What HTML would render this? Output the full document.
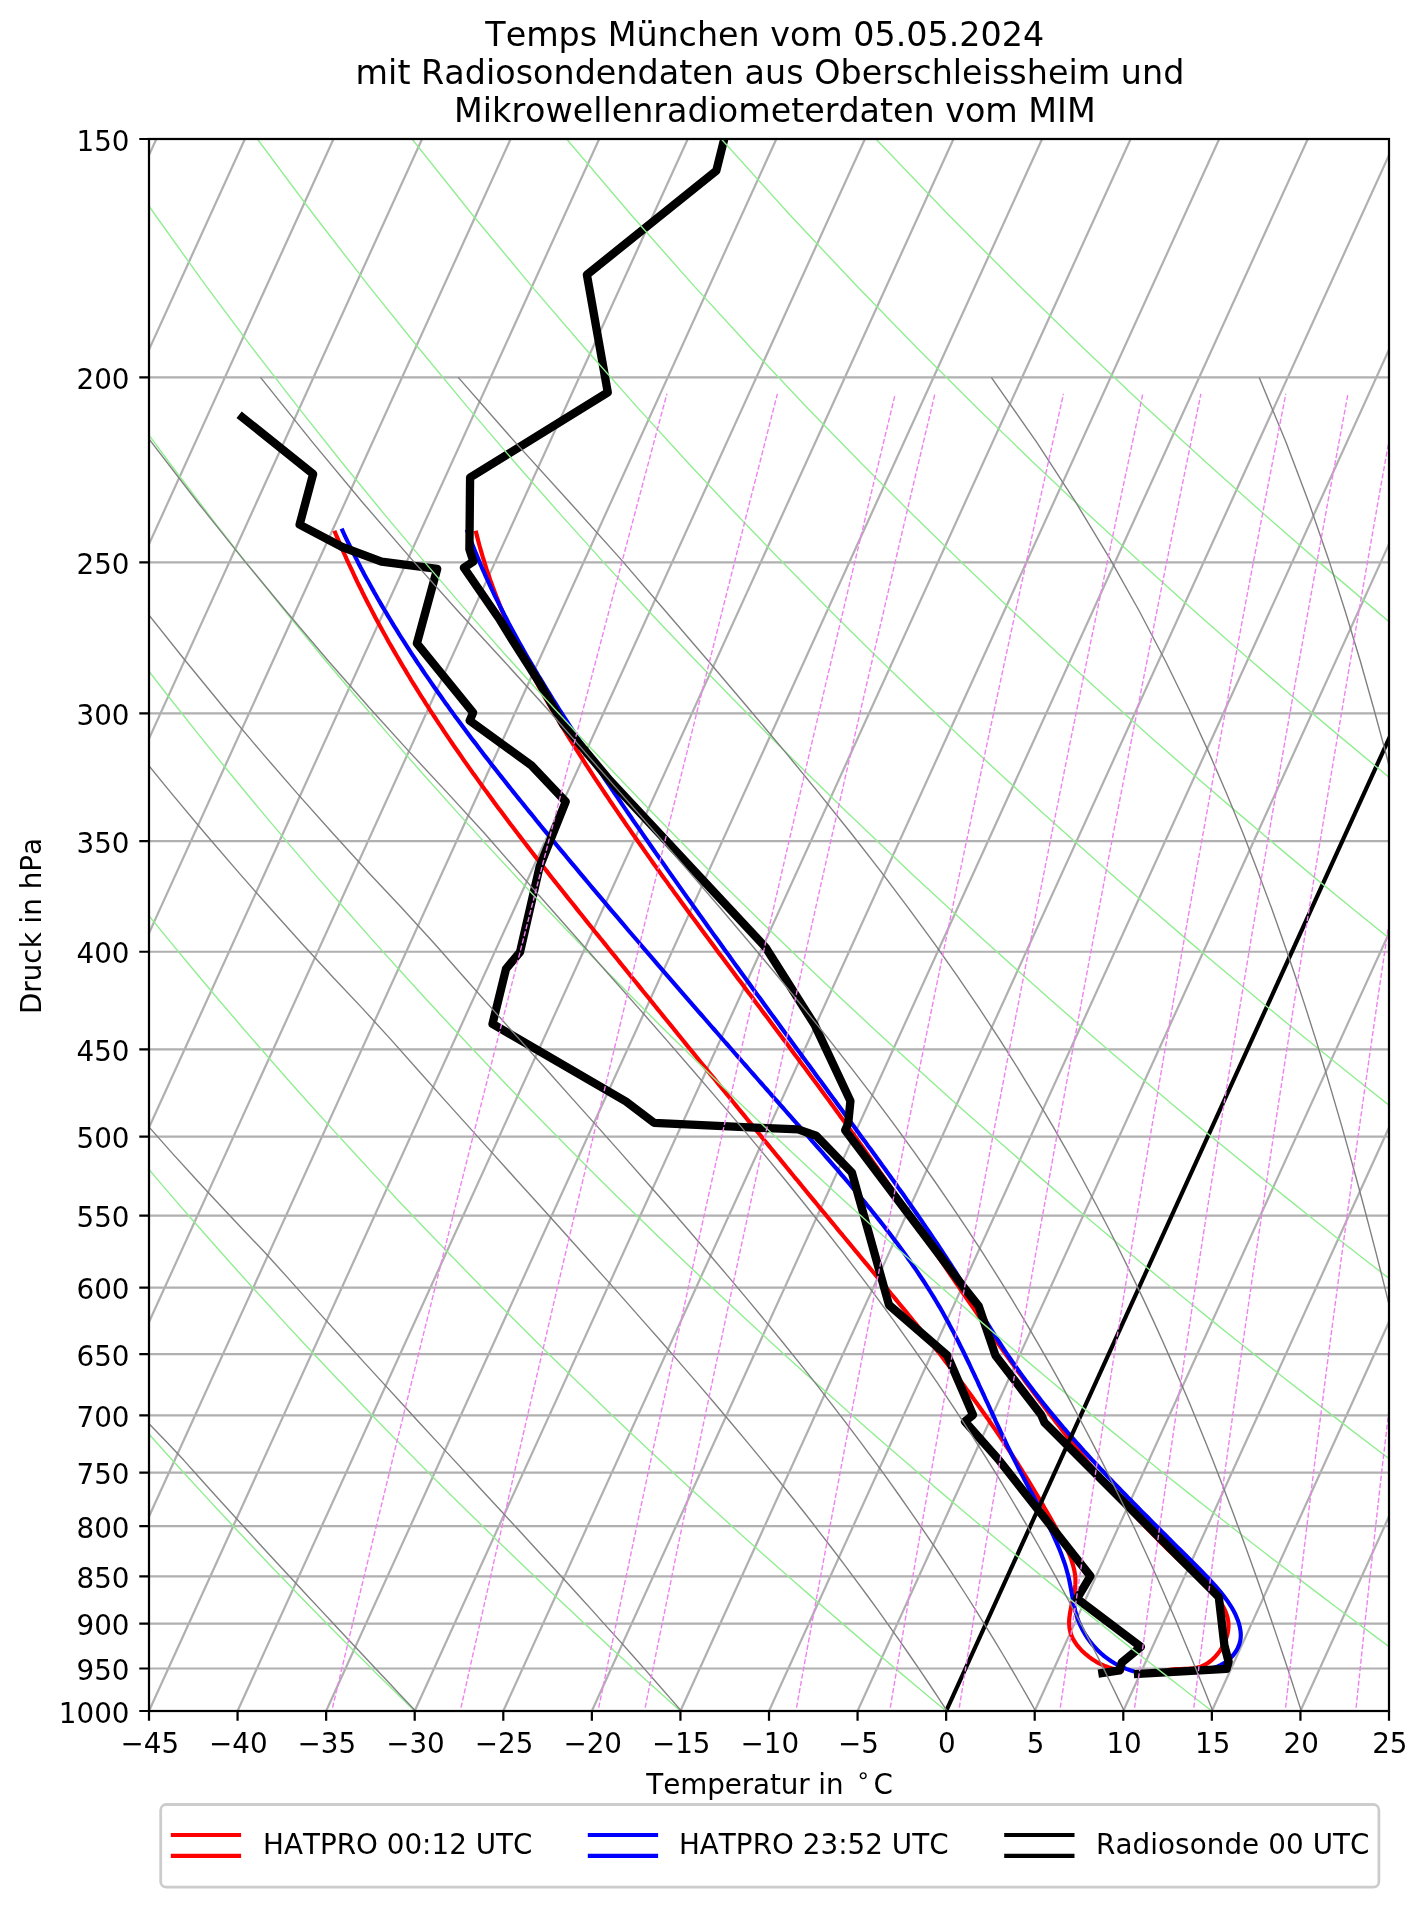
<!DOCTYPE html>
<html lang="de"><head><meta charset="utf-8"><title>Temps München vom 05.05.2024</title>
<style>html,body{margin:0;padding:0;background:#fff}body{width:1427px;height:1907px;overflow:hidden}</style></head>
<body>
<svg width="1427" height="1907" viewBox="0 0 1427 1907" style="display:block;will-change:transform;font-kerning:none">
<rect width="1427" height="1907" fill="#fff"/>
<defs><clipPath id="ax"><rect x="149.0" y="139.0" width="1240.0" height="1572.0"/></clipPath></defs>
<g clip-path="url(#ax)" fill="none" stroke-linejoin="round">
<path d="M-648.14,1711.0L67.77,139.0M-559.57,1711.0L156.34,139.0M-471.00,1711.0L244.91,139.0M-382.43,1711.0L333.49,139.0M-293.86,1711.0L422.06,139.0M-205.29,1711.0L510.63,139.0M-116.71,1711.0L599.20,139.0M-28.14,1711.0L687.77,139.0M60.43,1711.0L776.34,139.0M149.00,1711.0L864.91,139.0M237.57,1711.0L953.49,139.0M326.14,1711.0L1042.06,139.0M414.71,1711.0L1130.63,139.0M503.29,1711.0L1219.20,139.0M591.86,1711.0L1307.77,139.0M680.43,1711.0L1396.34,139.0M769.00,1711.0L1484.91,139.0M857.57,1711.0L1573.49,139.0M946.14,1711.0L1662.06,139.0M1034.71,1711.0L1750.63,139.0M1123.29,1711.0L1839.20,139.0M1211.86,1711.0L1927.77,139.0M1300.43,1711.0L2016.34,139.0M1389.00,1711.0L2104.91,139.0M149.0,377.38H1389.0M149.0,562.28H1389.0M149.0,713.36H1389.0M149.0,841.09H1389.0M149.0,951.74H1389.0M149.0,1049.34H1389.0M149.0,1136.64H1389.0M149.0,1215.62H1389.0M149.0,1287.72H1389.0M149.0,1354.04H1389.0M149.0,1415.45H1389.0M149.0,1472.62H1389.0M149.0,1526.10H1389.0M149.0,1576.33H1389.0M149.0,1623.70H1389.0M149.0,1668.50H1389.0M149.0,1711.00H1389.0" stroke="#b0b0b0" stroke-width="2.22"/>
<polyline points="475.7,530.7 476.6,534.6 477.6,538.4 478.6,542.2 479.6,546.0 480.7,549.8 481.8,553.6 482.9,557.4 484.1,561.2 485.2,564.9 486.4,568.7 487.7,572.4 489.0,576.2 490.2,579.9 491.6,583.6 492.9,587.3 494.3,591.0 495.7,594.7 497.1,598.4 498.6,602.1 500.0,605.8 501.5,609.4 503.0,613.1 504.6,616.7 506.2,620.4 507.8,624.0 509.4,627.6 511.0,631.3 512.7,634.9 514.3,638.5 516.0,642.1 517.8,645.7 519.5,649.2 521.2,652.8 523.0,656.4 524.8,659.9 526.6,663.5 528.5,667.0 530.3,670.6 532.2,674.1 534.1,677.6 536.0,681.2 537.9,684.7 539.8,688.2 541.8,691.7 543.7,695.2 545.7,698.7 547.7,702.1 549.7,705.6 551.7,709.1 553.8,712.5 555.8,716.0 557.9,719.5 559.9,722.9 562.0,726.3 564.1,729.8 566.2,733.2 568.3,736.6 570.4,740.0 572.6,743.4 574.7,746.9 576.9,750.3 579.0,753.6 581.2,757.0 583.4,760.4 585.5,763.8 587.7,767.2 589.9,770.5 592.1,773.9 594.3,777.3 596.5,780.6 598.8,784.0 601.0,787.3 603.2,790.7 605.4,794.0 607.7,797.3 609.9,800.7 612.2,804.0 614.4,807.3 616.7,810.6 618.9,813.9 621.2,817.2 623.5,820.5 625.7,823.8 628.0,827.1 630.3,830.4 632.6,833.7 634.9,837.0 637.2,840.3 639.5,843.6 641.8,846.8 644.1,850.1 646.4,853.4 648.7,856.6 651.0,859.9 653.3,863.2 655.6,866.4 658.0,869.7 660.3,872.9 662.6,876.2 664.9,879.4 667.3,882.6 669.6,885.9 672.0,889.1 674.3,892.4 676.7,895.6 679.0,898.8 681.3,902.0 683.7,905.3 686.1,908.5 688.4,911.7 690.8,914.9 693.1,918.1 695.5,921.3 697.9,924.6 700.2,927.8 702.6,931.0 705.0,934.2 707.3,937.4 709.7,940.6 712.1,943.8 714.5,947.0 716.8,950.2 719.2,953.4 721.6,956.6 724.0,959.8 726.4,963.0 728.7,966.1 731.1,969.3 733.5,972.5 735.9,975.7 738.3,978.9 740.7,982.1 743.1,985.3 745.4,988.5 747.8,991.7 750.2,994.8 752.6,998.0 755.0,1001.2 757.4,1004.4 759.8,1007.6 762.1,1010.8 764.5,1013.9 766.9,1017.1 769.3,1020.3 771.7,1023.5 774.1,1026.7 776.5,1029.9 778.8,1033.0 781.2,1036.2 783.6,1039.4 786.0,1042.6 788.4,1045.8 790.7,1049.0 793.1,1052.2 795.5,1055.4 797.9,1058.5 800.2,1061.7 802.6,1064.9 805.0,1068.1 807.3,1071.3 809.7,1074.5 812.1,1077.7 814.4,1080.9 816.8,1084.1 819.2,1087.3 821.5,1090.5 823.9,1093.7 826.2,1096.9 828.6,1100.1 830.9,1103.3 833.3,1106.5 835.6,1109.7 838.0,1112.9 840.3,1116.2 842.6,1119.4 845.0,1122.6 847.3,1125.8 849.6,1129.0 851.9,1132.3 854.3,1135.5 856.6,1138.7 858.9,1142.0 861.2,1145.2 863.5,1148.4 865.8,1151.7 868.1,1154.9 870.4,1158.2 872.7,1161.4 875.0,1164.7 877.3,1167.9 879.5,1171.2 881.8,1174.4 884.1,1177.7 886.4,1181.0 888.6,1184.2 890.9,1187.5 893.2,1190.8 895.4,1194.1 897.7,1197.3 899.9,1200.6 902.2,1203.9 904.4,1207.2 906.7,1210.5 908.9,1213.7 911.2,1217.0 913.4,1220.3 915.7,1223.6 917.9,1226.9 920.1,1230.2 922.4,1233.5 924.6,1236.8 926.9,1240.0 929.1,1243.3 931.3,1246.6 933.6,1249.9 935.8,1253.2 938.1,1256.5 940.3,1259.8 942.6,1263.1 944.8,1266.4 947.0,1269.7 949.3,1273.0 951.5,1276.3 953.8,1279.5 956.0,1282.8 958.3,1286.1 960.5,1289.4 962.8,1292.7 965.0,1296.0 967.3,1299.3 969.5,1302.6 971.8,1305.8 974.1,1309.1 976.3,1312.4 978.6,1315.7 980.9,1318.9 983.1,1322.2 985.4,1325.5 987.7,1328.8 990.0,1332.0 992.3,1335.3 994.6,1338.5 996.9,1341.8 999.2,1345.1 1001.5,1348.3 1003.8,1351.6 1006.1,1354.8 1008.4,1358.1 1010.7,1361.3 1013.1,1364.5 1015.4,1367.8 1017.7,1371.0 1020.1,1374.2 1022.4,1377.4 1024.8,1380.7 1027.2,1383.9 1029.5,1387.1 1031.9,1390.3 1034.3,1393.5 1036.7,1396.7 1039.1,1399.9 1041.5,1403.1 1043.9,1406.3 1046.3,1409.5 1048.7,1412.6 1051.1,1415.8 1053.6,1419.0 1056.0,1422.1 1058.5,1425.3 1060.9,1428.4 1063.4,1431.6 1065.9,1434.7 1068.3,1437.9 1070.8,1441.0 1073.3,1444.1 1075.8,1447.2 1078.4,1450.3 1080.9,1453.4 1083.4,1456.5 1086.0,1459.6 1088.5,1462.7 1091.1,1465.8 1093.7,1468.9 1096.2,1471.9 1098.8,1475.0 1101.4,1478.0 1104.1,1481.1 1106.7,1484.1 1109.3,1487.1 1112.0,1490.2 1114.6,1493.2 1117.3,1496.2 1120.0,1499.2 1122.7,1502.2 1125.4,1505.2 1128.1,1508.1 1130.8,1511.1 1133.5,1514.1 1136.3,1517.0 1139.0,1520.0 1141.8,1522.9 1144.6,1525.8 1147.4,1528.7 1150.2,1531.6 1153.0,1534.5 1155.9,1537.4 1158.7,1540.3 1161.6,1543.2 1164.5,1546.1 1167.4,1548.9 1170.3,1551.8 1173.2,1554.6 1176.1,1557.4 1179.1,1560.2 1182.0,1563.0 1185.0,1565.8 1188.0,1568.6 1191.0,1571.4 1194.0,1574.2 1197.0,1576.9 1200.0,1579.7 1202.9,1582.4 1205.8,1585.2 1208.6,1588.0 1211.3,1590.8 1213.8,1593.7 1216.2,1596.5 1218.5,1599.5 1220.6,1602.4 1222.5,1605.4 1224.1,1608.4 1225.5,1611.5 1226.7,1614.7 1227.6,1617.9 1228.2,1621.2 1228.5,1624.6 1228.4,1628.1 1228.0,1631.6 1227.2,1635.2 1226.1,1639.0 1224.5,1642.7 1222.6,1646.5 1220.4,1650.1 1217.9,1653.6 1215.0,1656.9 1212.0,1659.8 1208.6,1662.5 1205.1,1664.7 1201.3,1666.4 1197.4,1667.5 1193.3,1668.3 1189.1,1668.6 1184.7,1668.8 1180.3,1669.0 1175.8,1669.2 1171.2,1669.6 1166.7,1670.3" stroke="#ff0000" stroke-width="4.17"/>
<polyline points="334.4,530.8 335.9,534.5 337.5,538.2 339.1,541.9 340.7,545.6 342.3,549.3 343.9,553.0 345.6,556.7 347.2,560.3 348.9,564.0 350.6,567.6 352.3,571.2 354.0,574.9 355.7,578.5 357.4,582.1 359.2,585.7 361.0,589.3 362.7,592.8 364.5,596.4 366.3,600.0 368.1,603.5 370.0,607.1 371.8,610.6 373.7,614.2 375.5,617.7 377.4,621.2 379.3,624.7 381.2,628.2 383.1,631.7 385.1,635.2 387.0,638.7 388.9,642.2 390.9,645.6 392.9,649.1 394.9,652.6 396.9,656.0 398.9,659.4 400.9,662.9 402.9,666.3 405.0,669.7 407.0,673.1 409.1,676.5 411.1,680.0 413.2,683.3 415.3,686.7 417.4,690.1 419.5,693.5 421.6,696.9 423.8,700.2 425.9,703.6 428.1,706.9 430.2,710.3 432.4,713.6 434.6,717.0 436.8,720.3 438.9,723.6 441.2,726.9 443.4,730.3 445.6,733.6 447.8,736.9 450.0,740.2 452.3,743.5 454.5,746.8 456.8,750.0 459.1,753.3 461.4,756.6 463.6,759.9 465.9,763.1 468.2,766.4 470.5,769.6 472.8,772.9 475.2,776.1 477.5,779.4 479.8,782.6 482.2,785.9 484.5,789.1 486.9,792.3 489.2,795.5 491.6,798.8 493.9,802.0 496.3,805.2 498.7,808.4 501.1,811.6 503.5,814.8 505.9,818.0 508.3,821.2 510.7,824.4 513.1,827.6 515.5,830.8 518.0,834.0 520.4,837.1 522.8,840.3 525.3,843.5 527.7,846.6 530.1,849.8 532.6,853.0 535.0,856.1 537.5,859.3 540.0,862.5 542.4,865.6 544.9,868.8 547.4,871.9 549.8,875.1 552.3,878.2 554.8,881.4 557.3,884.5 559.8,887.6 562.3,890.8 564.8,893.9 567.3,897.1 569.8,900.2 572.3,903.3 574.8,906.4 577.3,909.6 579.8,912.7 582.3,915.8 584.8,919.0 587.3,922.1 589.8,925.2 592.3,928.3 594.8,931.5 597.4,934.6 599.9,937.7 602.4,940.8 604.9,943.9 607.4,947.0 609.9,950.2 612.5,953.3 615.0,956.4 617.5,959.5 620.0,962.6 622.5,965.7 625.1,968.9 627.6,972.0 630.1,975.1 632.6,978.2 635.1,981.3 637.7,984.4 640.2,987.6 642.7,990.7 645.2,993.8 647.8,996.9 650.3,1000.0 652.8,1003.1 655.3,1006.2 657.8,1009.4 660.4,1012.5 662.9,1015.6 665.4,1018.7 667.9,1021.8 670.5,1024.9 673.0,1028.0 675.5,1031.1 678.0,1034.2 680.5,1037.3 683.1,1040.5 685.6,1043.6 688.1,1046.7 690.6,1049.8 693.2,1052.9 695.7,1056.0 698.2,1059.1 700.7,1062.2 703.3,1065.3 705.8,1068.4 708.3,1071.5 710.8,1074.6 713.4,1077.7 715.9,1080.8 718.4,1083.9 720.9,1087.0 723.5,1090.1 726.0,1093.2 728.5,1096.3 731.0,1099.4 733.6,1102.5 736.1,1105.6 738.6,1108.7 741.2,1111.8 743.7,1114.9 746.2,1118.0 748.7,1121.1 751.3,1124.2 753.8,1127.3 756.3,1130.4 758.9,1133.5 761.4,1136.6 763.9,1139.7 766.5,1142.8 769.0,1145.9 771.5,1149.0 774.1,1152.1 776.6,1155.2 779.1,1158.2 781.7,1161.3 784.2,1164.4 786.7,1167.5 789.3,1170.6 791.8,1173.7 794.3,1176.8 796.9,1179.8 799.4,1182.9 801.9,1186.0 804.5,1189.1 807.0,1192.2 809.6,1195.3 812.1,1198.3 814.6,1201.4 817.2,1204.5 819.7,1207.6 822.2,1210.6 824.8,1213.7 827.3,1216.8 829.9,1219.9 832.4,1222.9 835.0,1226.0 837.5,1229.1 840.0,1232.2 842.6,1235.2 845.1,1238.3 847.7,1241.4 850.2,1244.4 852.8,1247.5 855.3,1250.6 857.9,1253.6 860.4,1256.7 863.0,1259.8 865.5,1262.8 868.1,1265.9 870.6,1269.0 873.1,1272.0 875.7,1275.1 878.2,1278.1 880.8,1281.2 883.3,1284.3 885.9,1287.3 888.4,1290.4 890.9,1293.5 893.5,1296.5 896.0,1299.6 898.5,1302.7 901.1,1305.8 903.6,1308.8 906.1,1311.9 908.6,1315.0 911.1,1318.1 913.6,1321.2 916.1,1324.2 918.6,1327.3 921.1,1330.4 923.6,1333.5 926.1,1336.6 928.6,1339.7 931.0,1342.9 933.5,1346.0 936.0,1349.1 938.4,1352.2 940.9,1355.3 943.3,1358.5 945.7,1361.6 948.1,1364.8 950.6,1367.9 953.0,1371.1 955.4,1374.2 957.8,1377.4 960.1,1380.6 962.5,1383.8 964.9,1386.9 967.2,1390.1 969.6,1393.3 971.9,1396.5 974.2,1399.8 976.6,1403.0 978.9,1406.2 981.2,1409.5 983.5,1412.7 985.8,1416.0 988.1,1419.2 990.3,1422.5 992.6,1425.8 994.9,1429.1 997.1,1432.4 999.3,1435.7 1001.6,1439.0 1003.8,1442.3 1006.0,1445.7 1008.2,1449.0 1010.4,1452.4 1012.6,1455.7 1014.8,1459.1 1017.0,1462.5 1019.1,1465.9 1021.3,1469.3 1023.4,1472.8 1025.6,1476.2 1027.7,1479.6 1029.8,1483.1 1031.9,1486.6 1034.0,1490.1 1036.1,1493.6 1038.2,1497.1 1040.3,1500.6 1042.4,1504.1 1044.4,1507.7 1046.5,1511.2 1048.5,1514.8 1050.6,1518.4 1052.6,1522.0 1054.6,1525.6 1056.6,1529.3 1058.6,1532.9 1060.6,1536.6 1062.5,1540.2 1064.4,1543.9 1066.2,1547.6 1067.9,1551.3 1069.5,1555.0 1071.0,1558.7 1072.2,1562.5 1073.3,1566.2 1074.2,1569.9 1074.9,1573.6 1075.3,1577.3 1075.5,1581.0 1075.3,1584.7 1075.0,1588.4 1074.4,1592.1 1073.7,1595.8 1072.9,1599.4 1072.0,1603.1 1071.2,1606.7 1070.5,1610.3 1069.9,1613.9 1069.4,1617.5 1069.1,1621.1 1069.2,1624.6 1069.5,1628.1 1070.2,1631.6 1071.3,1635.0 1072.8,1638.4 1074.7,1641.8 1077.0,1645.1 1079.6,1648.2 1082.5,1651.3 1085.7,1654.2 1089.0,1656.9 1092.6,1659.5 1096.3,1661.8 1100.2,1663.9 1104.1,1665.7 1108.2,1667.3 1112.2,1668.5 1116.2,1669.5 1120.2,1670.1 1124.1,1670.3" stroke="#ff0000" stroke-width="4.17"/>
<polyline points="466.8,529.5 468.1,533.2 469.5,536.9 470.9,540.5 472.3,544.2 473.7,547.8 475.2,551.5 476.7,555.1 478.2,558.8 479.7,562.4 481.2,566.0 482.8,569.6 484.4,573.2 486.0,576.8 487.7,580.4 489.3,584.0 491.0,587.6 492.7,591.2 494.4,594.8 496.1,598.3 497.9,601.9 499.6,605.4 501.4,609.0 503.2,612.5 505.0,616.1 506.9,619.6 508.7,623.2 510.6,626.7 512.5,630.2 514.4,633.7 516.3,637.2 518.2,640.7 520.2,644.2 522.2,647.7 524.1,651.2 526.1,654.7 528.1,658.2 530.1,661.6 532.2,665.1 534.2,668.6 536.3,672.0 538.3,675.5 540.4,678.9 542.5,682.4 544.6,685.8 546.7,689.3 548.8,692.7 550.9,696.1 553.0,699.6 555.2,703.0 557.3,706.4 559.5,709.8 561.7,713.2 563.8,716.6 566.0,720.0 568.2,723.4 570.4,726.8 572.6,730.2 574.8,733.6 577.0,737.0 579.2,740.3 581.4,743.7 583.7,747.1 585.9,750.4 588.1,753.8 590.3,757.1 592.6,760.5 594.8,763.8 597.1,767.2 599.3,770.5 601.5,773.9 603.8,777.2 606.0,780.5 608.3,783.9 610.5,787.2 612.8,790.5 615.0,793.8 617.3,797.1 619.6,800.5 621.8,803.8 624.1,807.1 626.3,810.4 628.6,813.7 630.9,817.0 633.1,820.3 635.4,823.6 637.7,826.9 640.0,830.1 642.2,833.4 644.5,836.7 646.8,840.0 649.1,843.3 651.3,846.5 653.6,849.8 655.9,853.1 658.2,856.3 660.5,859.6 662.8,862.9 665.1,866.1 667.3,869.4 669.6,872.6 671.9,875.9 674.2,879.1 676.5,882.4 678.8,885.6 681.1,888.9 683.4,892.1 685.7,895.4 688.0,898.6 690.3,901.8 692.6,905.1 694.9,908.3 697.2,911.5 699.5,914.8 701.9,918.0 704.2,921.2 706.5,924.5 708.8,927.7 711.1,930.9 713.4,934.1 715.7,937.3 718.1,940.6 720.4,943.8 722.7,947.0 725.0,950.2 727.3,953.4 729.7,956.6 732.0,959.9 734.3,963.1 736.6,966.3 739.0,969.5 741.3,972.7 743.6,975.9 745.9,979.1 748.3,982.3 750.6,985.5 752.9,988.7 755.3,991.9 757.6,995.1 760.0,998.3 762.3,1001.5 764.6,1004.7 767.0,1007.9 769.3,1011.2 771.6,1014.4 774.0,1017.6 776.3,1020.8 778.7,1024.0 781.0,1027.2 783.4,1030.4 785.7,1033.6 788.0,1036.8 790.4,1040.0 792.7,1043.2 795.1,1046.4 797.4,1049.6 799.8,1052.8 802.1,1056.0 804.5,1059.2 806.8,1062.4 809.2,1065.6 811.5,1068.8 813.9,1072.0 816.2,1075.2 818.6,1078.4 821.0,1081.6 823.3,1084.8 825.7,1088.0 828.0,1091.2 830.4,1094.4 832.7,1097.6 835.1,1100.8 837.4,1104.0 839.8,1107.2 842.2,1110.5 844.5,1113.7 846.9,1116.9 849.2,1120.1 851.6,1123.3 854.0,1126.5 856.3,1129.8 858.7,1133.0 861.0,1136.2 863.4,1139.4 865.8,1142.6 868.1,1145.9 870.5,1149.1 872.8,1152.3 875.2,1155.6 877.5,1158.8 879.9,1162.0 882.2,1165.3 884.6,1168.5 886.9,1171.8 889.3,1175.0 891.6,1178.3 894.0,1181.5 896.3,1184.8 898.6,1188.1 900.9,1191.3 903.3,1194.6 905.6,1197.9 907.9,1201.2 910.2,1204.5 912.5,1207.7 914.8,1211.0 917.1,1214.3 919.4,1217.6 921.7,1220.9 923.9,1224.3 926.2,1227.6 928.5,1230.9 930.7,1234.2 933.0,1237.6 935.2,1240.9 937.5,1244.2 939.7,1247.6 941.9,1251.0 944.1,1254.3 946.3,1257.7 948.5,1261.1 950.7,1264.5 952.9,1267.8 955.1,1271.2 957.2,1274.6 959.4,1278.1 961.5,1281.5 963.7,1284.9 965.8,1288.3 967.9,1291.8 970.0,1295.2 972.2,1298.6 974.3,1302.1 976.4,1305.5 978.5,1309.0 980.6,1312.4 982.7,1315.8 984.8,1319.2 986.9,1322.7 989.1,1326.1 991.2,1329.5 993.3,1332.9 995.5,1336.2 997.6,1339.6 999.8,1343.0 1002.0,1346.3 1004.1,1349.6 1006.3,1352.9 1008.6,1356.2 1010.8,1359.5 1013.0,1362.7 1015.3,1366.0 1017.6,1369.2 1019.9,1372.4 1022.2,1375.6 1024.5,1378.7 1026.8,1381.9 1029.2,1385.0 1031.5,1388.1 1033.9,1391.2 1036.3,1394.3 1038.7,1397.4 1041.1,1400.5 1043.5,1403.5 1046.0,1406.6 1048.4,1409.6 1050.9,1412.6 1053.4,1415.6 1055.9,1418.6 1058.4,1421.6 1060.9,1424.6 1063.4,1427.6 1066.0,1430.5 1068.5,1433.5 1071.1,1436.4 1073.7,1439.4 1076.3,1442.3 1078.9,1445.2 1081.5,1448.1 1084.1,1451.1 1086.8,1454.0 1089.4,1456.9 1092.1,1459.8 1094.8,1462.6 1097.4,1465.5 1100.1,1468.4 1102.9,1471.3 1105.6,1474.2 1108.3,1477.1 1111.1,1479.9 1113.8,1482.8 1116.6,1485.7 1119.3,1488.5 1122.1,1491.4 1124.9,1494.3 1127.7,1497.2 1130.6,1500.0 1133.4,1502.9 1136.2,1505.8 1139.1,1508.7 1141.9,1511.6 1144.8,1514.5 1147.7,1517.3 1150.5,1520.2 1153.4,1523.1 1156.3,1526.0 1159.3,1529.0 1162.2,1531.9 1165.1,1534.8 1168.0,1537.7 1171.0,1540.7 1173.9,1543.6 1176.9,1546.6 1179.9,1549.5 1182.9,1552.5 1185.9,1555.5 1188.9,1558.5 1191.9,1561.5 1194.9,1564.5 1197.9,1567.5 1200.9,1570.5 1203.9,1573.6 1206.8,1576.6 1209.7,1579.7 1212.6,1582.8 1215.4,1585.9 1218.1,1589.0 1220.7,1592.1 1223.2,1595.2 1225.6,1598.4 1227.9,1601.6 1230.0,1604.8 1232.0,1608.0 1233.8,1611.2 1235.4,1614.4 1236.8,1617.7 1238.1,1621.0 1239.1,1624.2 1239.9,1627.6 1240.5,1630.9 1240.8,1634.3 1240.7,1637.6 1240.2,1641.0 1239.3,1644.4 1237.8,1647.9 1236.0,1651.2 1233.7,1654.5 1231.0,1657.5 1227.9,1660.3 1224.6,1662.8 1221.0,1664.9 1217.2,1666.6 1213.2,1668.0 1209.1,1669.0 1204.9,1669.8 1200.7,1670.4 1196.4,1670.7 1192.1,1670.9 1188.0,1670.9 1183.9,1670.7 1180.0,1670.5" stroke="#0000ff" stroke-width="4.17"/>
<polyline points="341.6,528.6 343.2,532.2 344.9,535.8 346.6,539.4 348.3,542.9 350.1,546.5 351.8,550.0 353.6,553.6 355.4,557.1 357.2,560.6 359.0,564.2 360.8,567.7 362.7,571.2 364.5,574.7 366.4,578.2 368.3,581.6 370.2,585.1 372.2,588.6 374.1,592.1 376.1,595.5 378.0,599.0 380.0,602.4 382.0,605.9 384.0,609.3 386.1,612.7 388.1,616.1 390.2,619.5 392.2,622.9 394.3,626.3 396.4,629.7 398.5,633.1 400.6,636.5 402.8,639.9 404.9,643.2 407.1,646.6 409.2,649.9 411.4,653.3 413.6,656.6 415.8,660.0 418.0,663.3 420.3,666.6 422.5,670.0 424.7,673.3 427.0,676.6 429.3,679.9 431.5,683.2 433.8,686.5 436.1,689.8 438.4,693.0 440.8,696.3 443.1,699.6 445.4,702.9 447.8,706.1 450.1,709.4 452.5,712.6 454.8,715.9 457.2,719.1 459.6,722.3 462.0,725.6 464.4,728.8 466.8,732.0 469.2,735.2 471.6,738.4 474.1,741.6 476.5,744.8 478.9,748.0 481.4,751.2 483.8,754.4 486.3,757.6 488.8,760.8 491.2,764.0 493.7,767.1 496.2,770.3 498.7,773.5 501.2,776.6 503.7,779.8 506.2,782.9 508.7,786.1 511.2,789.2 513.7,792.4 516.2,795.5 518.7,798.6 521.3,801.8 523.8,804.9 526.3,808.0 528.8,811.1 531.4,814.2 533.9,817.3 536.4,820.5 539.0,823.6 541.5,826.7 544.1,829.8 546.6,832.8 549.2,835.9 551.7,839.0 554.3,842.1 556.8,845.2 559.4,848.3 561.9,851.3 564.5,854.4 567.0,857.5 569.6,860.6 572.1,863.6 574.7,866.7 577.2,869.7 579.8,872.8 582.4,875.9 584.9,878.9 587.5,882.0 590.0,885.0 592.6,888.1 595.2,891.1 597.7,894.1 600.3,897.2 602.8,900.2 605.4,903.2 608.0,906.3 610.5,909.3 613.1,912.3 615.7,915.4 618.3,918.4 620.8,921.4 623.4,924.4 626.0,927.5 628.5,930.5 631.1,933.5 633.7,936.5 636.3,939.5 638.9,942.5 641.4,945.5 644.0,948.6 646.6,951.6 649.2,954.6 651.8,957.6 654.4,960.6 656.9,963.6 659.5,966.6 662.1,969.6 664.7,972.6 667.3,975.6 669.9,978.6 672.5,981.6 675.1,984.6 677.7,987.6 680.3,990.6 682.9,993.6 685.5,996.6 688.1,999.6 690.7,1002.6 693.3,1005.6 695.9,1008.6 698.5,1011.6 701.1,1014.5 703.7,1017.5 706.3,1020.5 708.9,1023.5 711.5,1026.5 714.2,1029.5 716.8,1032.5 719.4,1035.5 722.0,1038.5 724.6,1041.5 727.3,1044.5 729.9,1047.5 732.5,1050.5 735.1,1053.5 737.8,1056.5 740.4,1059.5 743.0,1062.5 745.7,1065.5 748.3,1068.5 750.9,1071.5 753.6,1074.5 756.2,1077.5 758.8,1080.5 761.5,1083.5 764.1,1086.5 766.8,1089.5 769.4,1092.5 772.1,1095.5 774.7,1098.5 777.4,1101.5 780.0,1104.5 782.7,1107.5 785.3,1110.5 788.0,1113.6 790.7,1116.6 793.3,1119.6 796.0,1122.6 798.7,1125.6 801.3,1128.7 804.0,1131.7 806.7,1134.7 809.3,1137.7 812.0,1140.8 814.7,1143.8 817.3,1146.8 820.0,1149.9 822.7,1152.9 825.3,1156.0 828.0,1159.0 830.7,1162.1 833.3,1165.1 836.0,1168.2 838.6,1171.2 841.2,1174.3 843.9,1177.4 846.5,1180.5 849.1,1183.5 851.7,1186.6 854.3,1189.7 856.9,1192.8 859.5,1195.9 862.1,1199.0 864.7,1202.1 867.2,1205.2 869.8,1208.3 872.3,1211.5 874.8,1214.6 877.3,1217.7 879.8,1220.9 882.3,1224.0 884.8,1227.2 887.2,1230.4 889.7,1233.5 892.1,1236.7 894.5,1239.9 896.9,1243.1 899.3,1246.3 901.6,1249.5 904.0,1252.7 906.3,1255.9 908.6,1259.2 910.9,1262.4 913.2,1265.7 915.4,1268.9 917.6,1272.2 919.8,1275.5 922.0,1278.7 924.2,1282.0 926.3,1285.3 928.4,1288.7 930.5,1292.0 932.6,1295.3 934.6,1298.6 936.6,1302.0 938.6,1305.4 940.6,1308.7 942.5,1312.1 944.4,1315.5 946.3,1318.9 948.2,1322.3 950.0,1325.8 951.9,1329.2 953.7,1332.6 955.4,1336.1 957.2,1339.5 959.0,1343.0 960.7,1346.5 962.5,1350.0 964.2,1353.5 965.9,1357.0 967.6,1360.5 969.3,1364.0 970.9,1367.5 972.6,1371.1 974.3,1374.6 975.9,1378.2 977.6,1381.7 979.2,1385.3 980.9,1388.9 982.5,1392.4 984.2,1396.0 985.8,1399.6 987.5,1403.2 989.2,1406.8 990.8,1410.4 992.5,1414.0 994.2,1417.6 995.8,1421.3 997.5,1424.9 999.2,1428.5 1000.9,1432.2 1002.7,1435.8 1004.4,1439.4 1006.1,1443.1 1007.9,1446.8 1009.7,1450.4 1011.5,1454.1 1013.3,1457.7 1015.1,1461.4 1017.0,1465.1 1018.8,1468.8 1020.7,1472.5 1022.7,1476.1 1024.6,1479.8 1026.6,1483.5 1028.5,1487.2 1030.5,1490.9 1032.5,1494.6 1034.5,1498.3 1036.4,1502.0 1038.4,1505.7 1040.3,1509.4 1042.3,1513.0 1044.2,1516.7 1046.1,1520.4 1047.9,1524.1 1049.7,1527.8 1051.5,1531.5 1053.2,1535.2 1054.9,1538.8 1056.5,1542.5 1058.1,1546.2 1059.6,1549.8 1061.1,1553.5 1062.4,1557.1 1063.7,1560.8 1065.0,1564.4 1066.1,1568.0 1067.1,1571.7 1068.1,1575.3 1069.0,1578.9 1069.7,1582.5 1070.4,1586.1 1071.1,1589.7 1071.7,1593.2 1072.4,1596.8 1073.0,1600.4 1073.7,1603.9 1074.5,1607.4 1075.3,1611.0 1076.3,1614.5 1077.4,1618.0 1078.7,1621.5 1080.1,1624.9 1081.8,1628.4 1083.6,1631.8 1085.6,1635.2 1087.8,1638.5 1090.2,1641.7 1092.7,1644.9 1095.5,1647.9 1098.3,1650.9 1101.4,1653.7 1104.5,1656.4 1107.9,1658.9 1111.3,1661.3 1114.9,1663.5 1118.6,1665.5 1122.4,1667.3 1126.3,1668.9 1130.2,1670.3 1134.2,1671.4" stroke="#0000ff" stroke-width="4.17"/>
<polyline points="731.5,110.0 716.3,170.8 586.9,274.7 607.8,392.4 470.1,477.5 469.4,549.2 473.4,561.6 463.9,567.7 500.0,620.0 512.3,640.0 539.0,682.0 563.0,724.0 609.6,780.2 765.7,947.5 814.6,1024.8 850.4,1101.1 848.2,1123.5 845.2,1130.2 961.8,1284.8 978.7,1306.1 995.5,1355.5 1041.1,1414.7 1044.5,1422.5 1218.8,1597.0 1224.4,1645.4 1228.6,1661.6 1226.6,1668.8 1133.9,1674.1" stroke="#000" stroke-width="8.33" stroke-linejoin="round"/>
<polyline points="239.1,414.7 313.1,474.1 299.6,524.6 342.2,547.0 381.5,561.6 437.2,568.8 416.9,643.4 473.1,712.7 469.7,720.6 531.4,765.4 565.7,801.7 539.6,866.9 520.0,952.1 506.0,968.9 492.5,1023.9 626.0,1101.5 654.0,1122.8 760.0,1127.8 798.1,1129.4 816.1,1135.7 851.9,1172.7 889.0,1305.0 947.3,1355.5 973.0,1414.9 964.9,1421.4 998.5,1459.5 1090.4,1576.1 1077.0,1598.6 1140.9,1646.8 1121.8,1662.5 1119.6,1670.3 1098.3,1673.7" stroke="#000" stroke-width="8.33" stroke-linejoin="round"/>
<path d="M946.14,1711.0L1662.06,139.0" stroke="#000" stroke-width="4.17"/>
<path d="M149.0,1711.0L137.8,1699.0L126.4,1686.8L115.0,1674.4L103.5,1661.8L91.9,1649.1L80.2,1636.1L68.3,1622.9L56.4,1609.5L44.3,1595.9L32.2,1582.1L19.9,1568.0L7.5,1553.7L-5.0,1539.2L-17.7,1524.3L-30.4,1509.2L-43.4,1493.9L-56.4,1478.2L-69.6,1462.3L-82.9,1446.0L-96.4,1429.4L-110.0,1412.4L-123.8,1395.1L-137.7,1377.5L-151.8,1359.4L-166.1,1341.0L-180.6,1322.1L-195.2,1302.8L-210.1,1283.0L-225.1,1262.8L-240.3,1242.0L-255.7,1220.7L-271.4,1198.9L-287.3,1176.4L-303.4,1153.3L-319.7,1129.6L-336.3,1105.2L-353.2,1080.0L-370.3,1054.0L-387.7,1027.2L-405.4,999.5L-423.5,970.8L-441.8,941.1L-460.5,910.3L-479.5,878.4L-498.9,845.1L-518.7,810.4L-539.0,774.3L-559.6,736.4L-580.8,696.8L-602.4,655.2L-624.5,611.4L-647.2,565.1L-670.5,516.1L-694.4,464.0L-718.9,408.4L-744.2,348.8L-770.3,284.6L-797.1,215.0L-824.9,139.0M414.7,1711.0L402.4,1699.0L390.0,1686.8L377.4,1674.4L364.8,1661.8L352.0,1649.1L339.1,1636.1L326.1,1622.9L313.0,1609.5L299.7,1595.9L286.4,1582.1L272.8,1568.0L259.2,1553.7L245.4,1539.2L231.5,1524.3L217.4,1509.2L203.2,1493.9L188.8,1478.2L174.3,1462.3L159.6,1446.0L144.8,1429.4L129.7,1412.4L114.5,1395.1L99.1,1377.5L83.6,1359.4L67.8,1341.0L51.8,1322.1L35.6,1302.8L19.2,1283.0L2.6,1262.8L-14.2,1242.0L-31.3,1220.7L-48.6,1198.9L-66.2,1176.4L-84.1,1153.3L-102.2,1129.6L-120.6,1105.2L-139.4,1080.0L-158.4,1054.0L-177.8,1027.2L-197.5,999.5L-217.5,970.8L-238.0,941.1L-258.8,910.3L-280.1,878.4L-301.8,845.1L-323.9,810.4L-346.5,774.3L-369.7,736.4L-393.4,696.8L-417.7,655.2L-442.6,611.4L-468.1,565.1L-494.4,516.1L-521.4,464.0L-549.3,408.4L-578.0,348.8L-607.7,284.6L-638.4,215.0L-670.3,139.0M680.4,1711.0L667.0,1699.0L653.5,1686.8L639.8,1674.4L626.0,1661.8L612.1,1649.1L598.1,1636.1L583.9,1622.9L569.6,1609.5L555.1,1595.9L540.5,1582.1L525.8,1568.0L510.9,1553.7L495.9,1539.2L480.7,1524.3L465.3,1509.2L449.8,1493.9L434.1,1478.2L418.2,1462.3L402.2,1446.0L385.9,1429.4L369.5,1412.4L352.9,1395.1L336.0,1377.5L319.0,1359.4L301.7,1341.0L284.2,1322.1L266.5,1302.8L248.5,1283.0L230.3,1262.8L211.9,1242.0L193.1,1220.7L174.1,1198.9L154.8,1176.4L135.2,1153.3L115.3,1129.6L95.0,1105.2L74.4,1080.0L53.5,1054.0L32.2,1027.2L10.5,999.5L-11.6,970.8L-34.2,941.1L-57.1,910.3L-80.6,878.4L-104.6,845.1L-129.1,810.4L-154.1,774.3L-179.7,736.4L-206.0,696.8L-233.0,655.2L-260.6,611.4L-289.1,565.1L-318.3,516.1L-348.5,464.0L-379.6,408.4L-411.8,348.8L-445.1,284.6L-479.7,215.0L-515.7,139.0M946.1,1711.0L931.6,1699.0L917.0,1686.8L902.2,1674.4L887.3,1661.8L872.2,1649.1L857.0,1636.1L841.7,1622.9L826.2,1609.5L810.5,1595.9L794.7,1582.1L778.7,1568.0L762.6,1553.7L746.3,1539.2L729.8,1524.3L713.2,1509.2L696.4,1493.9L679.3,1478.2L662.1,1462.3L644.7,1446.0L627.1,1429.4L609.2,1412.4L591.2,1395.1L572.9,1377.5L554.4,1359.4L535.6,1341.0L516.6,1322.1L497.4,1302.8L477.8,1283.0L458.0,1262.8L437.9,1242.0L417.5,1220.7L396.8,1198.9L375.8,1176.4L354.5,1153.3L332.8,1129.6L310.7,1105.2L288.2,1080.0L265.4,1054.0L242.1,1027.2L218.4,999.5L194.3,970.8L169.7,941.1L144.5,910.3L118.9,878.4L92.6,845.1L65.8,810.4L38.3,774.3L10.2,736.4L-18.6,696.8L-48.3,655.2L-78.7,611.4L-110.0,565.1L-142.3,516.1L-175.6,464.0L-210.0,408.4L-245.6,348.8L-282.6,284.6L-321.0,215.0L-361.1,139.0M1211.9,1711.0L1196.2,1699.0L1180.5,1686.8L1164.6,1674.4L1148.5,1661.8L1132.3,1649.1L1115.9,1636.1L1099.4,1622.9L1082.7,1609.5L1065.9,1595.9L1048.9,1582.1L1031.7,1568.0L1014.3,1553.7L996.8,1539.2L979.0,1524.3L961.1,1509.2L942.9,1493.9L924.6,1478.2L906.0,1462.3L887.2,1446.0L868.2,1429.4L849.0,1412.4L829.5,1395.1L809.8,1377.5L789.8,1359.4L769.5,1341.0L749.0,1322.1L728.2,1302.8L707.1,1283.0L685.7,1262.8L664.0,1242.0L642.0,1220.7L619.6,1198.9L596.8,1176.4L573.7,1153.3L550.3,1129.6L526.4,1105.2L502.0,1080.0L477.3,1054.0L452.1,1027.2L426.4,999.5L400.2,970.8L373.5,941.1L346.2,910.3L318.3,878.4L289.8,845.1L260.6,810.4L230.8,774.3L200.1,736.4L168.7,696.8L136.4,655.2L103.2,611.4L69.0,565.1L33.8,516.1L-2.6,464.0L-40.3,408.4L-79.4,348.8L-120.0,284.6L-162.3,215.0L-206.4,139.0M1477.6,1711.0L1460.9,1699.0L1444.0,1686.8L1426.9,1674.4L1409.8,1661.8L1392.4,1649.1L1374.9,1636.1L1357.2,1622.9L1339.3,1609.5L1321.3,1595.9L1303.1,1582.1L1284.6,1568.0L1266.0,1553.7L1247.2,1539.2L1228.2,1524.3L1208.9,1509.2L1189.5,1493.9L1169.8,1478.2L1149.9,1462.3L1129.8,1446.0L1109.4,1429.4L1088.7,1412.4L1067.8,1395.1L1046.6,1377.5L1025.2,1359.4L1003.5,1341.0L981.4,1322.1L959.1,1302.8L936.4,1283.0L913.4,1262.8L890.1,1242.0L866.4,1220.7L842.3,1198.9L817.9,1176.4L793.0,1153.3L767.7,1129.6L742.0,1105.2L715.9,1080.0L689.2,1054.0L662.0,1027.2L634.4,999.5L606.1,970.8L577.3,941.1L547.9,910.3L517.8,878.4L487.0,845.1L455.5,810.4L423.2,774.3L390.1,736.4L356.1,696.8L321.1,655.2L285.2,611.4L248.1,565.1L209.8,516.1L170.3,464.0L129.3,408.4L86.8,348.8L42.6,284.6L-3.6,215.0L-51.8,139.0M1743.3,1711.0L1725.5,1699.0L1707.5,1686.8L1689.3,1674.4L1671.0,1661.8L1652.5,1649.1L1633.8,1636.1L1615.0,1622.9L1595.9,1609.5L1576.7,1595.9L1557.2,1582.1L1537.6,1568.0L1517.7,1553.7L1497.6,1539.2L1477.3,1524.3L1456.8,1509.2L1436.1,1493.9L1415.0,1478.2L1393.8,1462.3L1372.3,1446.0L1350.5,1429.4L1328.5,1412.4L1306.1,1395.1L1283.5,1377.5L1260.6,1359.4L1237.4,1341.0L1213.8,1322.1L1189.9,1302.8L1165.7,1283.0L1141.1,1262.8L1116.2,1242.0L1090.8,1220.7L1065.1,1198.9L1038.9,1176.4L1012.3,1153.3L985.2,1129.6L957.7,1105.2L929.7,1080.0L901.1,1054.0L872.0,1027.2L842.3,999.5L812.0,970.8L781.1,941.1L749.5,910.3L717.2,878.4L684.2,845.1L650.3,810.4L615.6,774.3L580.0,736.4L543.5,696.8L505.8,655.2L467.1,611.4L427.2,565.1L385.9,516.1L343.2,464.0L299.0,408.4L253.0,348.8L205.1,284.6L155.2,215.0L102.8,139.0M2009.0,1711.0L1990.1,1699.0L1971.0,1686.8L1951.7,1674.4L1932.3,1661.8L1912.6,1649.1L1892.8,1636.1L1872.7,1622.9L1852.5,1609.5L1832.1,1595.9L1811.4,1582.1L1790.5,1568.0L1769.4,1553.7L1748.1,1539.2L1726.5,1524.3L1704.7,1509.2L1682.6,1493.9L1660.3,1478.2L1637.7,1462.3L1614.8,1446.0L1591.7,1429.4L1568.2,1412.4L1544.5,1395.1L1520.4,1377.5L1496.0,1359.4L1471.3,1341.0L1446.2,1322.1L1420.8,1302.8L1395.0,1283.0L1368.8,1262.8L1342.2,1242.0L1315.2,1220.7L1287.8,1198.9L1259.9,1176.4L1231.6,1153.3L1202.7,1129.6L1173.4,1105.2L1143.5,1080.0L1113.0,1054.0L1082.0,1027.2L1050.3,999.5L1018.0,970.8L984.9,941.1L951.2,910.3L916.7,878.4L881.4,845.1L845.2,810.4L808.1,774.3L770.0,736.4L730.8,696.8L690.5,655.2L649.0,611.4L606.2,565.1L562.0,516.1L516.2,464.0L468.6,408.4L419.2,348.8L367.7,284.6L313.9,215.0L257.4,139.0M2274.7,1711.0L2254.7,1699.0L2234.5,1686.8L2214.1,1674.4L2193.5,1661.8L2172.7,1649.1L2151.7,1636.1L2130.5,1622.9L2109.1,1609.5L2087.4,1595.9L2065.6,1582.1L2043.5,1568.0L2021.1,1553.7L1998.5,1539.2L1975.7,1524.3L1952.6,1509.2L1929.2,1493.9L1905.5,1478.2L1881.6,1462.3L1857.4,1446.0L1832.8,1429.4L1808.0,1412.4L1782.8,1395.1L1757.3,1377.5L1731.4,1359.4L1705.2,1341.0L1678.6,1322.1L1651.7,1302.8L1624.3,1283.0L1596.5,1262.8L1568.3,1242.0L1539.7,1220.7L1510.5,1198.9L1480.9,1176.4L1450.8,1153.3L1420.2,1129.6L1389.0,1105.2L1357.3,1080.0L1324.9,1054.0L1291.9,1027.2L1258.2,999.5L1223.9,970.8L1188.8,941.1L1152.9,910.3L1116.2,878.4L1078.6,845.1L1040.0,810.4L1000.5,774.3L959.9,736.4L918.2,696.8L875.2,655.2L831.0,611.4L785.3,565.1L738.0,516.1L689.1,464.0L638.3,408.4L585.4,348.8L530.3,284.6L472.6,215.0L412.0,139.0M2540.4,1711.0L2519.3,1699.0L2498.0,1686.8L2476.5,1674.4L2454.8,1661.8L2432.8,1649.1L2410.7,1636.1L2388.3,1622.9L2365.7,1609.5L2342.8,1595.9L2319.7,1582.1L2296.4,1568.0L2272.8,1553.7L2249.0,1539.2L2224.8,1524.3L2200.4,1509.2L2175.8,1493.9L2150.8,1478.2L2125.5,1462.3L2099.9,1446.0L2074.0,1429.4L2047.7,1412.4L2021.1,1395.1L1994.2,1377.5L1966.8,1359.4L1939.1,1341.0L1911.0,1322.1L1882.5,1302.8L1853.6,1283.0L1824.2,1262.8L1794.4,1242.0L1764.1,1220.7L1733.3,1198.9L1702.0,1176.4L1670.1,1153.3L1637.7,1129.6L1604.7,1105.2L1571.1,1080.0L1536.8,1054.0L1501.9,1027.2L1466.2,999.5L1429.8,970.8L1392.6,941.1L1354.5,910.3L1315.6,878.4L1275.8,845.1L1234.9,810.4L1192.9,774.3L1149.9,736.4L1105.6,696.8L1059.9,655.2L1012.9,611.4L964.3,565.1L914.1,516.1L862.0,464.0L807.9,408.4L751.6,348.8L692.8,284.6L631.3,215.0L566.6,139.0M2806.1,1711.0L2783.9,1699.0L2761.5,1686.8L2738.9,1674.4L2716.0,1661.8L2692.9,1649.1L2669.6,1636.1L2646.1,1622.9L2622.3,1609.5L2598.2,1595.9L2573.9,1582.1L2549.4,1568.0L2524.5,1553.7L2499.4,1539.2L2474.0,1524.3L2448.3,1509.2L2422.3,1493.9L2396.0,1478.2L2369.4,1462.3L2342.4,1446.0L2315.1,1429.4L2287.5,1412.4L2259.4,1395.1L2231.0,1377.5L2202.2,1359.4L2173.0,1341.0L2143.4,1322.1L2113.4,1302.8L2082.9,1283.0L2051.9,1262.8L2020.5,1242.0L1988.5,1220.7L1956.0,1198.9L1923.0,1176.4L1889.4,1153.3L1855.2,1129.6L1820.4,1105.2L1784.9,1080.0L1748.7,1054.0L1711.8,1027.2L1674.2,999.5L1635.7,970.8L1596.4,941.1L1556.2,910.3L1515.1,878.4L1472.9,845.1L1429.7,810.4L1385.4,774.3L1339.8,736.4L1292.9,696.8L1244.7,655.2L1194.8,611.4L1143.4,565.1L1090.1,516.1L1034.9,464.0L977.6,408.4L917.8,348.8L855.4,284.6L790.0,215.0L721.3,139.0M3071.9,1711.0L3048.5,1699.0L3025.0,1686.8L3001.3,1674.4L2977.3,1661.8L2953.0,1649.1L2928.6,1636.1L2903.8,1622.9L2878.9,1609.5L2853.6,1595.9L2828.1,1582.1L2802.3,1568.0L2776.2,1553.7L2749.9,1539.2L2723.2,1524.3L2696.2,1509.2L2668.9,1493.9L2641.2,1478.2L2613.3,1462.3L2584.9,1446.0L2556.3,1429.4L2527.2,1412.4L2497.8,1395.1L2467.9,1377.5L2437.6,1359.4L2407.0,1341.0L2375.8,1322.1L2344.2,1302.8L2312.2,1283.0L2279.6,1262.8L2246.5,1242.0L2212.9,1220.7L2178.8,1198.9L2144.0,1176.4L2108.7,1153.3L2072.7,1129.6L2036.0,1105.2L1998.7,1080.0L1960.6,1054.0L1921.8,1027.2L1882.1,999.5L1841.6,970.8L1800.2,941.1L1757.9,910.3L1714.5,878.4L1670.1,845.1L1624.6,810.4L1577.8,774.3L1529.8,736.4L1480.3,696.8L1429.4,655.2L1376.8,611.4L1322.5,565.1L1266.2,516.1L1207.9,464.0L1147.2,408.4L1084.0,348.8L1018.0,284.6L948.7,215.0L875.9,139.0" stroke="#90ee90" stroke-width="1.39"/>
<path d="M149.9,1711.0L137.4,1697.4L124.8,1683.5L112.1,1669.4L99.2,1655.0L85.7,1640.4L71.3,1625.6L56.8,1610.4L42.2,1595.0L27.5,1579.3L12.7,1563.3L-2.2,1547.0L-17.2,1530.3L-32.3,1513.3L-47.6,1496.0L-63.0,1478.2L-78.5,1460.1L-94.2,1441.6L-110.1,1422.7L-126.1,1403.3L-142.3,1383.4L-158.7,1363.1L-175.3,1342.3L-192.1,1320.9L-209.1,1298.9L-226.3,1276.4L-243.7,1253.2L-261.4,1229.3L-279.3,1204.8L-297.5,1179.5L-316.0,1153.4L-334.8,1126.4L-353.9,1098.6L-373.3,1069.8L-393.0,1039.9L-413.1,1008.9L-433.6,976.7L-454.5,943.2L-475.8,908.3L-497.6,871.9L-519.8,833.8L-542.6,793.9L-565.8,751.9L-589.7,707.7L-614.2,661.0L-639.3,611.5L-665.1,558.9L-691.7,502.7L-719.1,442.4L-747.4,377.4M415.6,1711.0L402.7,1697.4L389.7,1683.5L376.4,1669.4L362.9,1655.0L349.2,1640.4L335.2,1625.6L321.1,1610.4L306.7,1595.0L292.2,1579.3L277.3,1563.3L262.3,1547.0L247.1,1530.3L231.6,1513.3L215.9,1496.0L199.9,1478.2L183.7,1460.1L166.2,1441.6L148.0,1422.7L129.7,1403.3L111.3,1383.4L92.6,1363.1L73.8,1342.3L54.7,1320.9L35.5,1298.9L16.0,1276.4L-3.7,1253.2L-23.7,1229.3L-43.9,1204.8L-64.4,1179.5L-85.3,1153.4L-106.4,1126.4L-127.9,1098.6L-149.7,1069.8L-171.9,1039.9L-194.6,1008.9L-217.6,976.7L-241.1,943.2L-265.1,908.3L-289.6,871.9L-314.6,833.8L-340.3,793.9L-366.5,751.9L-393.5,707.7L-421.1,661.0L-449.5,611.5L-478.8,558.9L-509.0,502.7L-540.2,442.4L-572.5,377.4M681.3,1711.0L669.5,1697.4L657.3,1683.5L644.9,1669.4L632.2,1655.0L619.2,1640.4L605.8,1625.6L592.2,1610.4L578.2,1595.0L563.9,1579.3L549.2,1563.3L534.2,1547.0L518.9,1530.3L503.2,1513.3L487.2,1496.0L470.8,1478.2L454.0,1460.1L436.9,1441.6L419.4,1422.7L401.6,1403.3L383.4,1383.4L364.8,1363.1L345.8,1342.3L326.4,1320.9L306.6,1298.9L286.5,1276.4L265.6,1253.2L242.7,1229.3L219.6,1204.8L196.2,1179.5L172.4,1153.4L148.4,1126.4L124.0,1098.6L99.2,1069.8L74.0,1039.9L48.4,1008.9L22.4,976.7L-4.2,943.2L-31.3,908.3L-58.9,871.9L-87.2,833.8L-116.2,793.9L-145.8,751.9L-176.2,707.7L-207.5,661.0L-239.7,611.5L-272.8,558.9L-307.0,502.7L-342.4,442.4L-379.2,377.4M947.0,1711.0L938.1,1697.4L928.9,1683.5L919.4,1669.4L909.5,1655.0L899.4,1640.4L888.9,1625.6L878.1,1610.4L866.9,1595.0L855.3,1579.3L843.4,1563.3L831.0,1547.0L818.1,1530.3L804.9,1513.3L791.1,1496.0L776.9,1478.2L762.1,1460.1L746.8,1441.6L731.0,1422.7L714.6,1403.3L697.6,1383.4L680.0,1363.1L661.9,1342.3L643.0,1320.9L623.6,1298.9L603.5,1276.4L582.7,1253.2L561.2,1229.3L539.1,1204.8L516.2,1179.5L492.7,1153.4L468.4,1126.4L443.4,1098.6L417.7,1069.8L391.2,1039.9L362.9,1008.9L332.5,976.7L301.6,943.2L270.2,908.3L238.1,871.9L205.3,833.8L171.9,793.9L137.6,751.9L102.4,707.7L66.4,661.0L29.2,611.5L-9.0,558.9L-48.6,502.7L-89.5,442.4L-132.0,377.4M1035.6,1711.0L1027.9,1697.4L1019.9,1683.5L1011.7,1669.4L1003.2,1655.0L994.4,1640.4L985.3,1625.6L975.9,1610.4L966.1,1595.0L956.0,1579.3L945.6,1563.3L934.7,1547.0L923.4,1530.3L911.7,1513.3L899.6,1496.0L886.9,1478.2L873.8,1460.1L860.1,1441.6L845.8,1422.7L831.0,1403.3L815.6,1383.4L799.5,1363.1L782.7,1342.3L765.2,1320.9L747.0,1298.9L728.1,1276.4L708.4,1253.2L687.8,1229.3L666.5,1204.8L644.2,1179.5L621.2,1153.4L597.2,1126.4L572.3,1098.6L546.6,1069.8L519.9,1039.9L492.2,1008.9L463.6,976.7L434.1,943.2L402.1,908.3L368.0,871.9L333.2,833.8L297.6,793.9L261.2,751.9L223.9,707.7L185.6,661.0L146.2,611.5L105.7,558.9L63.7,502.7L20.3,442.4L-24.7,377.4M1124.2,1711.0L1117.6,1697.4L1110.9,1683.5L1104.0,1669.4L1096.8,1655.0L1089.4,1640.4L1081.8,1625.6L1073.8,1610.4L1065.6,1595.0L1057.1,1579.3L1048.3,1563.3L1039.2,1547.0L1029.7,1530.3L1019.8,1513.3L1009.5,1496.0L998.8,1478.2L987.6,1460.1L975.9,1441.6L963.7,1422.7L951.0,1403.3L937.7,1383.4L923.8,1363.1L909.2,1342.3L893.9,1320.9L877.8,1298.9L861.0,1276.4L843.3,1253.2L824.7,1229.3L805.2,1204.8L784.8,1179.5L763.3,1153.4L740.8,1126.4L717.1,1098.6L692.3,1069.8L666.4,1039.9L639.3,1008.9L610.9,976.7L581.3,943.2L550.4,908.3L518.3,871.9L484.9,833.8L448.4,793.9L409.4,751.9L369.4,707.7L328.4,661.0L286.3,611.5L242.8,558.9L198.0,502.7L151.6,442.4L103.4,377.4M1212.7,1711.0L1207.4,1697.4L1201.8,1683.5L1196.1,1669.4L1190.2,1655.0L1184.1,1640.4L1177.9,1625.6L1171.4,1610.4L1164.7,1595.0L1157.8,1579.3L1150.6,1563.3L1143.1,1547.0L1135.4,1530.3L1127.4,1513.3L1119.0,1496.0L1110.3,1478.2L1101.2,1460.1L1091.7,1441.6L1081.8,1422.7L1071.5,1403.3L1060.6,1383.4L1049.3,1363.1L1037.3,1342.3L1024.8,1320.9L1011.6,1298.9L997.6,1276.4L982.9,1253.2L967.4,1229.3L950.9,1204.8L933.5,1179.5L915.1,1153.4L895.5,1126.4L874.8,1098.6L852.7,1069.8L829.3,1039.9L804.4,1008.9L778.1,976.7L750.1,943.2L720.5,908.3L689.2,871.9L656.2,833.8L621.3,793.9L584.7,751.9L546.2,707.7L503.8,661.0L458.3,611.5L411.3,558.9L362.8,502.7L312.6,442.4L260.5,377.4M1301.3,1711.0L1296.9,1697.4L1292.5,1683.5L1287.9,1669.4L1283.1,1655.0L1278.2,1640.4L1273.2,1625.6L1268.0,1610.4L1262.7,1595.0L1257.2,1579.3L1251.5,1563.3L1245.6,1547.0L1239.5,1530.3L1233.2,1513.3L1226.6,1496.0L1219.8,1478.2L1212.7,1460.1L1205.3,1441.6L1197.6,1422.7L1189.6,1403.3L1181.1,1383.4L1172.3,1363.1L1163.1,1342.3L1153.4,1320.9L1143.2,1298.9L1132.4,1276.4L1121.0,1253.2L1109.0,1229.3L1096.2,1204.8L1082.7,1179.5L1068.3,1153.4L1052.9,1126.4L1036.4,1098.6L1018.8,1069.8L999.9,1039.9L979.6,1008.9L957.7,976.7L934.1,943.2L908.6,908.3L881.2,871.9L851.5,833.8L819.5,793.9L785.1,751.9L748.0,707.7L708.3,661.0L665.8,611.5L620.5,558.9L570.1,502.7L515.3,442.4L458.2,377.4M1478.5,1711.0L1475.7,1697.4L1472.9,1683.5L1470.0,1669.4L1467.1,1655.0L1464.1,1640.4L1461.0,1625.6L1457.8,1610.4L1454.6,1595.0L1451.3,1579.3L1447.9,1563.3L1444.4,1547.0L1440.8,1530.3L1437.2,1513.3L1433.4,1496.0L1429.5,1478.2L1425.4,1460.1L1421.3,1441.6L1417.0,1422.7L1412.5,1403.3L1407.9,1383.4L1403.1,1363.1L1398.2,1342.3L1393.0,1320.9L1387.6,1298.9L1382.0,1276.4L1376.1,1253.2L1369.9,1229.3L1363.4,1204.8L1356.6,1179.5L1349.4,1153.4L1341.8,1126.4L1333.7,1098.6L1325.1,1069.8L1315.9,1039.9L1306.0,1008.9L1295.5,976.7L1284.0,943.2L1271.6,908.3L1258.0,871.9L1243.2,833.8L1226.8,793.9L1208.6,751.9L1188.3,707.7L1165.4,661.0L1139.5,611.5L1110.0,558.9L1076.0,502.7L1036.8,442.4L991.3,377.4M1567.0,1711.0L1564.9,1697.4L1562.6,1683.5L1560.4,1669.4L1558.1,1655.0L1555.8,1640.4L1553.4,1625.6L1551.0,1610.4L1548.5,1595.0L1545.9,1579.3L1543.4,1563.3L1540.7,1547.0L1538.0,1530.3L1535.3,1513.3L1532.4,1496.0L1529.5,1478.2L1526.6,1460.1L1523.5,1441.6L1520.4,1422.7L1517.1,1403.3L1513.8,1383.4L1510.4,1363.1L1506.8,1342.3L1503.2,1320.9L1499.4,1298.9L1495.4,1276.4L1491.3,1253.2L1487.1,1229.3L1482.7,1204.8L1478.0,1179.5L1473.2,1153.4L1468.1,1126.4L1462.8,1098.6L1457.2,1069.8L1451.2,1039.9L1444.9,1008.9L1438.2,976.7L1431.0,943.2L1423.3,908.3L1415.0,871.9L1406.0,833.8L1396.2,793.9L1385.5,751.9L1373.5,707.7L1360.3,661.0L1345.3,611.5L1328.4,558.9L1308.9,502.7L1286.1,442.4L1259.2,377.4" stroke="#808080" stroke-width="1.39"/>
<path d="M332.5,1707.7L338.0,1684.6L343.7,1660.9L349.5,1636.5L355.6,1611.4L361.9,1585.5L368.4,1558.7L375.1,1531.1L382.1,1502.5L389.3,1472.8L396.8,1442.1L404.7,1410.2L412.9,1377.0L421.4,1342.4L430.4,1306.4L439.8,1268.6L449.7,1229.1L460.1,1187.6L471.1,1143.9L482.8,1097.8L495.2,1049.0L508.5,997.1L522.7,941.7L538.0,882.3L554.6,818.4L572.6,749.1L592.5,673.6L614.4,590.4L639.0,497.9L666.9,393.8M461.0,1707.7L466.2,1684.6L471.5,1660.9L477.0,1636.5L482.7,1611.4L488.6,1585.5L494.6,1558.7L501.0,1531.1L507.5,1502.5L514.3,1472.8L521.4,1442.1L528.8,1410.2L536.5,1377.0L544.6,1342.4L553.0,1306.4L561.9,1268.6L571.2,1229.1L581.1,1187.6L591.5,1143.9L602.5,1097.8L614.3,1049.0L626.8,997.1L640.3,941.7L654.8,882.3L670.5,818.4L687.7,749.1L706.5,673.6L727.4,590.4L750.8,497.9L777.4,393.8M598.7,1707.7L603.5,1684.6L608.4,1660.9L613.5,1636.5L618.8,1611.4L624.2,1585.5L629.9,1558.7L635.7,1531.1L641.8,1502.5L648.1,1472.8L654.7,1442.1L661.6,1410.2L668.8,1377.0L676.3,1342.4L684.2,1306.4L692.4,1268.6L701.1,1229.1L710.3,1187.6L720.1,1143.9L730.4,1097.8L741.4,1049.0L753.2,997.1L765.8,941.7L779.5,882.3L794.3,818.4L810.4,749.1L828.2,673.6L848.0,590.4L870.1,497.9L895.3,393.8M645.2,1707.7L649.8,1684.6L654.6,1660.9L659.5,1636.5L664.7,1611.4L670.0,1585.5L675.4,1558.7L681.1,1531.1L687.1,1502.5L693.2,1472.8L699.6,1442.1L706.3,1410.2L713.3,1377.0L720.7,1342.4L728.3,1306.4L736.4,1268.6L744.9,1229.1L753.9,1187.6L763.4,1143.9L773.5,1097.8L784.2,1049.0L795.7,997.1L808.1,941.7L821.4,882.3L835.9,818.4L851.7,749.1L869.1,673.6L888.5,590.4L910.2,497.9L934.9,393.8M796.5,1707.7L800.7,1684.6L805.0,1660.9L809.5,1636.5L814.1,1611.4L818.9,1585.5L823.9,1558.7L829.1,1531.1L834.5,1502.5L840.1,1472.8L845.9,1442.1L852.0,1410.2L858.4,1377.0L865.1,1342.4L872.1,1306.4L879.5,1268.6L887.3,1229.1L895.5,1187.6L904.3,1143.9L913.6,1097.8L923.5,1049.0L934.1,997.1L945.5,941.7L957.8,882.3L971.3,818.4L985.9,749.1L1002.1,673.6L1020.1,590.4L1040.4,497.9L1063.5,393.8M890.3,1707.7L894.2,1684.6L898.2,1660.9L902.4,1636.5L906.7,1611.4L911.2,1585.5L915.9,1558.7L920.7,1531.1L925.7,1502.5L931.0,1472.8L936.5,1442.1L942.2,1410.2L948.2,1377.0L954.5,1342.4L961.1,1306.4L968.0,1268.6L975.4,1229.1L983.2,1187.6L991.4,1143.9L1000.2,1097.8L1009.5,1049.0L1019.6,997.1L1030.4,941.7L1042.1,882.3L1054.8,818.4L1068.8,749.1L1084.2,673.6L1101.4,590.4L1120.7,497.9L1142.8,393.8M959.3,1707.7L963.0,1684.6L966.8,1660.9L970.8,1636.5L974.9,1611.4L979.1,1585.5L983.5,1558.7L988.1,1531.1L992.9,1502.5L997.9,1472.8L1003.1,1442.1L1008.5,1410.2L1014.2,1377.0L1020.2,1342.4L1026.5,1306.4L1033.1,1268.6L1040.1,1229.1L1047.6,1187.6L1055.4,1143.9L1063.8,1097.8L1072.8,1049.0L1082.4,997.1L1092.8,941.7L1104.0,882.3L1116.2,818.4L1129.7,749.1L1144.5,673.6L1161.0,590.4L1179.6,497.9L1200.9,393.8M1060.3,1707.7L1063.7,1684.6L1067.1,1660.9L1070.7,1636.5L1074.5,1611.4L1078.4,1585.5L1082.4,1558.7L1086.7,1531.1L1091.0,1502.5L1095.6,1472.8L1100.4,1442.1L1105.4,1410.2L1110.7,1377.0L1116.2,1342.4L1122.1,1306.4L1128.2,1268.6L1134.7,1229.1L1141.6,1187.6L1148.9,1143.9L1156.8,1097.8L1165.1,1049.0L1174.1,997.1L1183.8,941.7L1194.3,882.3L1205.8,818.4L1218.4,749.1L1232.4,673.6L1248.0,590.4L1265.6,497.9L1285.8,393.8M1134.6,1707.7L1137.7,1684.6L1140.9,1660.9L1144.3,1636.5L1147.8,1611.4L1151.4,1585.5L1155.2,1558.7L1159.1,1531.1L1163.2,1502.5L1167.5,1472.8L1172.0,1442.1L1176.7,1410.2L1181.7,1377.0L1186.9,1342.4L1192.3,1306.4L1198.1,1268.6L1204.2,1229.1L1210.7,1187.6L1217.7,1143.9L1225.0,1097.8L1233.0,1049.0L1241.5,997.1L1250.7,941.7L1260.7,882.3L1271.6,818.4L1283.6,749.1L1296.9,673.6L1311.8,590.4L1328.6,497.9L1348.0,393.8M1193.8,1707.7L1196.7,1684.6L1199.7,1660.9L1202.9,1636.5L1206.2,1611.4L1209.6,1585.5L1213.1,1558.7L1216.8,1531.1L1220.7,1502.5L1224.8,1472.8L1229.0,1442.1L1233.4,1410.2L1238.1,1377.0L1243.0,1342.4L1248.2,1306.4L1253.7,1268.6L1259.6,1229.1L1265.7,1187.6L1272.3,1143.9L1279.4,1097.8L1286.9,1049.0L1295.1,997.1L1303.9,941.7L1313.4,882.3L1323.9,818.4L1335.4,749.1L1348.2,673.6L1362.5,590.4L1378.7,497.9L1397.4,393.8M1285.6,1707.7L1288.2,1684.6L1290.9,1660.9L1293.7,1636.5L1296.7,1611.4L1299.8,1585.5L1303.0,1558.7L1306.3,1531.1L1309.8,1502.5L1313.5,1472.8L1317.3,1442.1L1321.4,1410.2L1325.6,1377.0L1330.1,1342.4L1334.9,1306.4L1339.9,1268.6L1345.3,1229.1L1350.9,1187.6L1357.0,1143.9L1363.5,1097.8L1370.5,1049.0L1378.0,997.1L1386.2,941.7L1395.1,882.3L1404.9,818.4L1415.6,749.1L1427.6,673.6L1441.0,590.4L1456.3,497.9L1473.8,393.8M1356.1,1707.7L1358.5,1684.6L1361.0,1660.9L1363.5,1636.5L1366.2,1611.4L1369.0,1585.5L1372.0,1558.7L1375.1,1531.1L1378.3,1502.5L1381.6,1472.8L1385.2,1442.1L1388.9,1410.2L1392.9,1377.0L1397.0,1342.4L1401.4,1306.4L1406.1,1268.6L1411.1,1229.1L1416.4,1187.6L1422.0,1143.9L1428.1,1097.8L1434.6,1049.0L1441.7,997.1L1449.4,941.7L1457.8,882.3L1466.9,818.4L1477.1,749.1L1488.4,673.6L1501.2,590.4L1515.7,497.9L1532.4,393.8M1438.9,1707.7L1441.0,1684.6L1443.2,1660.9L1445.5,1636.5L1447.8,1611.4L1450.3,1585.5L1452.9,1558.7L1455.7,1531.1L1458.6,1502.5L1461.6,1472.8L1464.8,1442.1L1468.1,1410.2L1471.7,1377.0L1475.4,1342.4L1479.4,1306.4L1483.7,1268.6L1488.2,1229.1L1493.0,1187.6L1498.2,1143.9L1503.8,1097.8L1509.8,1049.0L1516.3,997.1L1523.4,941.7L1531.1,882.3L1539.7,818.4L1549.1,749.1L1559.7,673.6L1571.6,590.4L1585.2,497.9L1601.0,393.8" stroke="#ee82ee" stroke-width="1.39" stroke-dasharray="5.14 2.22"/>
</g>
<rect x="149.0" y="139.0" width="1240.0" height="1572.0" fill="none" stroke="#000" stroke-width="2.22"/>
<path d="M149.00,1711.0v9.72M237.57,1711.0v9.72M326.14,1711.0v9.72M414.71,1711.0v9.72M503.29,1711.0v9.72M591.86,1711.0v9.72M680.43,1711.0v9.72M769.00,1711.0v9.72M857.57,1711.0v9.72M946.14,1711.0v9.72M1034.71,1711.0v9.72M1123.29,1711.0v9.72M1211.86,1711.0v9.72M1300.43,1711.0v9.72M1389.00,1711.0v9.72M149.0,139.00h-9.72M149.0,377.38h-9.72M149.0,562.28h-9.72M149.0,713.36h-9.72M149.0,841.09h-9.72M149.0,951.74h-9.72M149.0,1049.34h-9.72M149.0,1136.64h-9.72M149.0,1215.62h-9.72M149.0,1287.72h-9.72M149.0,1354.04h-9.72M149.0,1415.45h-9.72M149.0,1472.62h-9.72M149.0,1526.10h-9.72M149.0,1576.33h-9.72M149.0,1623.70h-9.72M149.0,1668.50h-9.72M149.0,1711.00h-9.72" stroke="#000" stroke-width="2.22" fill="none"/>
<rect x="160.7" y="1804.5" width="1218.2" height="82.7" rx="5.5" ry="5.5" fill="#fff" stroke="#cccccc" stroke-width="2.78"/>
<g font-family="DejaVu Sans, Liberation Sans, sans-serif" font-size="27.78" fill="#000">
<text x="149.8" y="1752.7" text-anchor="middle">−45</text>
<text x="238.4" y="1752.7" text-anchor="middle">−40</text>
<text x="326.9" y="1752.7" text-anchor="middle">−35</text>
<text x="415.5" y="1752.7" text-anchor="middle">−30</text>
<text x="504.1" y="1752.7" text-anchor="middle">−25</text>
<text x="592.7" y="1752.7" text-anchor="middle">−20</text>
<text x="681.2" y="1752.7" text-anchor="middle">−15</text>
<text x="769.8" y="1752.7" text-anchor="middle">−10</text>
<text x="858.4" y="1752.7" text-anchor="middle">−5</text>
<text x="946.9" y="1752.7" text-anchor="middle">0</text>
<text x="1035.5" y="1752.7" text-anchor="middle">5</text>
<text x="1124.1" y="1752.7" text-anchor="middle">10</text>
<text x="1212.7" y="1752.7" text-anchor="middle">15</text>
<text x="1301.2" y="1752.7" text-anchor="middle">20</text>
<text x="1389.8" y="1752.7" text-anchor="middle">25</text>
<text x="129.5" y="150.5" text-anchor="end">150</text>
<text x="129.5" y="388.9" text-anchor="end">200</text>
<text x="129.5" y="573.8" text-anchor="end">250</text>
<text x="129.5" y="724.9" text-anchor="end">300</text>
<text x="129.5" y="852.6" text-anchor="end">350</text>
<text x="129.5" y="963.2" text-anchor="end">400</text>
<text x="129.5" y="1060.8" text-anchor="end">450</text>
<text x="129.5" y="1148.1" text-anchor="end">500</text>
<text x="129.5" y="1227.1" text-anchor="end">550</text>
<text x="129.5" y="1299.2" text-anchor="end">600</text>
<text x="129.5" y="1365.5" text-anchor="end">650</text>
<text x="129.5" y="1427.0" text-anchor="end">700</text>
<text x="129.5" y="1484.1" text-anchor="end">750</text>
<text x="129.5" y="1537.6" text-anchor="end">800</text>
<text x="129.5" y="1587.8" text-anchor="end">850</text>
<text x="129.5" y="1635.2" text-anchor="end">900</text>
<text x="129.5" y="1680.0" text-anchor="end">950</text>
<text x="129.5" y="1722.5" text-anchor="end">1000</text>
<text x="646.3" y="1793.7" textLength="197.2">Temperatur in</text>
<text x="873.5" y="1793.7">C</text>
<text x="856" y="1783.3" font-size="23">∘</text>
<text transform="translate(41.3,926) rotate(-90)" text-anchor="middle">Druck in hPa</text>
<text x="263" y="1853.8" textLength="269.4">HATPRO 00:12 UTC</text>
<text x="678.9" y="1853.8" textLength="269.7">HATPRO 23:52 UTC</text>
<text x="1096" y="1853.8" textLength="273.5">Radiosonde 00 UTC</text>
</g>
<g font-family="DejaVu Sans, Liberation Sans, sans-serif" font-size="33.33" fill="#000">
<text x="485.3" y="45.8" textLength="558.8">Temps München vom 05.05.2024</text>
<text x="355.6" y="83.9" textLength="828.7">mit Radiosondendaten aus Oberschleissheim und</text>
<text x="454.1" y="122" textLength="641.6">Mikrowellenradiometerdaten vom MIM</text>
</g>
<path d="M170.8,1835H241.10000000000002M170.8,1855.8H241.10000000000002" stroke="#ff0000" stroke-width="4.17" fill="none"/>
<path d="M587.8,1835H658.0999999999999M587.8,1855.8H658.0999999999999" stroke="#0000ff" stroke-width="4.17" fill="none"/>
<path d="M1004.2,1835H1074.5M1004.2,1855.8H1074.5" stroke="#000" stroke-width="4.17" fill="none"/>
</svg>
</body></html>
